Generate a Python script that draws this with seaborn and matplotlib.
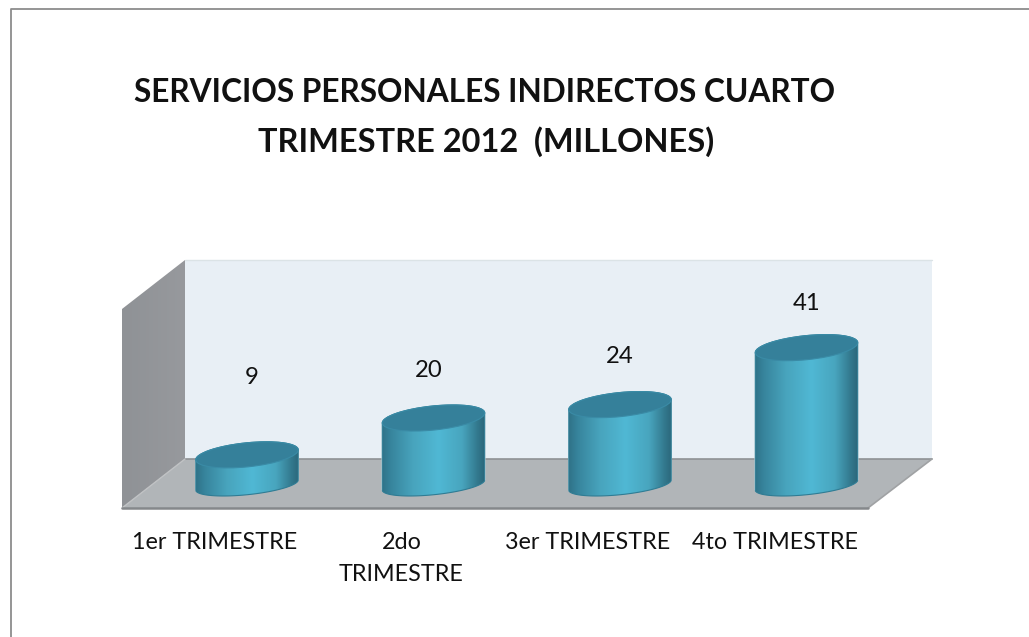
import numpy as np
import pandas as pd
import seaborn as sns
import matplotlib.pyplot as plt
from matplotlib.colors import LinearSegmentedColormap
from matplotlib.patches import Ellipse, PathPatch, Polygon
from matplotlib.path import Path
from matplotlib.transforms import Affine2D, ScaledTranslation

# values
categories = ['1er TRIMESTRE', '2do\nTRIMESTRE', '3er TRIMESTRE', '4to TRIMESTRE']
values = [9, 20, 24, 41]
value_labels = ['9', '20', '24', '41']

W, H = 1029, 637
TILT = -5.87          # degrees, ellipse tilt of the fake 3D view
SEMI_A, SEMI_B, SEMI_B_BASE = 51.5, 12.0, 9.7

sns.set_theme(style='white')
plt.rcParams['font.family'] = ['Lato', 'DejaVu Sans']

df = pd.DataFrame({'trimestre': categories, 'millones': values})

fig = plt.figure(figsize=(W / 100, H / 100), dpi=100)
fig.patch.set_facecolor('white')


def pixel_axes(zorder):
    a = fig.add_axes([0, 0, 1, 1], zorder=zorder)
    a.set_xlim(0, W)
    a.set_ylim(H, 0)
    a.axis('off')
    return a


# background: frame, walls and floor, in pixels
bg = pixel_axes(0)
bg.plot([10.5, 10.5, W], [H, 8.5, 8.5], color='#8c8c8c', lw=1.3)
bg.add_patch(Polygon([(185, 260), (932, 260), (932, 459), (185, 459)], fc='#e8eff5', ec='none'))
bg.plot([185, 932], [260, 260], color='#dbe3e6', lw=1)
wall = bg.imshow(np.linspace(0, 1, 64).reshape(1, -1), extent=(122, 185, 508, 260), aspect='auto',
                 cmap=LinearSegmentedColormap.from_list('wall', ['#8f9296', '#97999d']))
wall.set_clip_path(Polygon([(122, 309), (185, 260), (185, 459), (122, 508)], transform=bg.transData))
bg.add_patch(Polygon([(185, 459), (932, 459), (868, 508), (122, 508)], fc='#b1b5b8', ec='none'))
bg.plot([185, 932], [459, 459], color='#8f9294', lw=1.2)
bg.plot([185, 122], [459, 508], color='#c0c2c4', lw=1)
bg.plot([932, 868], [459, 508], color='#a0a2a4', lw=1.2)
bg.plot([122, 868], [508, 508], color='#85888b', lw=1.8)
bg.set_xlim(0, W)
bg.set_ylim(H, 0)

# chart axes: one category = 186.5 px, one unit = 3.35 px
left, right, top, bottom = 122, 932, 260, 508
ax = fig.add_axes([left / W, 1 - bottom / H, (right - left) / W, (bottom - top) / H], zorder=1)
ax.patch.set_alpha(0)
sns.barplot(data=df, x='trimestre', y='millones', width=0.55, color='#46a3bf',
            saturation=1, ax=ax)
ax.set_xlim((left - 247) / 186.5, (right - 247) / 186.5)
ax.set_ylim((485 - bottom) / 3.35, (485 - top) / 3.35)
ax.set(xlabel=None, ylabel=None, yticks=[])
sns.despine(ax=ax, left=True, bottom=True)
ax.tick_params(axis='x', length=0, pad=17.5, labelsize=16.8, colors='#111111')
for lab in ax.get_xticklabels():
    lab.set_linespacing(1.6)
    lab.set_verticalalignment('top')
    lab.set_transform(lab.get_transform() + ScaledTranslation(-32 / 100, 0, fig.dpi_scale_trans))

# top layer: shaded sides and ellipses of the cylinders
over = pixel_axes(2)
side_cmap = LinearSegmentedColormap.from_list(
    'side', [(0, '#2f7389'), (0.08, '#37849c'), (0.3, '#48a4bd'), (0.55, '#50b8d4'),
             (0.78, '#48a5be'), (0.93, '#33798e'), (1, '#2b677b')])


def ellipse_points(cx, cy, semi_b, t):
    th = np.radians(TILT)
    x = cx + SEMI_A * np.cos(t) * np.cos(th) - semi_b * np.sin(t) * np.sin(th)
    y = cy + SEMI_A * np.cos(t) * np.sin(th) + semi_b * np.sin(t) * np.cos(th)
    return np.column_stack([x, y])


def right_most_angle(semi_b):
    return np.arctan2(semi_b * np.sin(np.radians(-TILT)), SEMI_A * np.cos(np.radians(TILT)))


to_px = ax.transData + over.transData.inverted()
for bar in ax.patches:
    x_mid = bar.get_x() + bar.get_width() / 2
    cx, cy_base = to_px.transform((x_mid, 0))
    _, cy_top = to_px.transform((x_mid, bar.get_height()))

    # lean the bar the same way as the ellipses so it stays inside the cylinder
    disp_cx = ax.transData.transform((x_mid, 0))[0]
    bar.set_transform(ax.transData + Affine2D().translate(-disp_cx, 0)
                      .skew_deg(0, -TILT).translate(disp_cx, 0))

    t_base = right_most_angle(SEMI_B_BASE)
    t_top = right_most_angle(SEMI_B)
    front = ellipse_points(cx, cy_base, SEMI_B_BASE, np.linspace(t_base, t_base + np.pi, 60))
    back = ellipse_points(cx, cy_top, SEMI_B, np.linspace(t_top + np.pi, t_top + 2 * np.pi, 60))
    outline = np.vstack([front, back, front[:1]])
    body = PathPatch(Path(outline), fc='none', ec='#2f7c94', lw=0.8, zorder=3)
    over.add_patch(body)
    im = over.imshow(np.linspace(0, 1, 128).reshape(1, -1), cmap=side_cmap, aspect='auto',
                     extent=(outline[:, 0].min(), outline[:, 0].max(), outline[:, 1].max(), outline[:, 1].min()),
                     zorder=2)
    im.set_clip_path(body)
    over.add_patch(Ellipse((cx, cy_top), 2 * SEMI_A, 2 * SEMI_B, angle=TILT,
                           fc='#35809a', ec='#3a8ba6', lw=0.8, zorder=4))

over.set_xlim(0, W)
over.set_ylim(H, 0)

# data labels sit well above each cylinder, placed by hand in the original
label_lift = [23.1, 14.1, 14.3, 13.1]
label_shift = [5, -5, 0, 0]
for i, (v, txt) in enumerate(zip(values, value_labels)):
    ax.text(i + label_shift[i] / 186.5, v + label_lift[i], txt,
            ha='center', va='center', fontsize=17.2, color='#111111', clip_on=False)

over.text(484.5, 93, 'SERVICIOS PERSONALES INDIRECTOS CUARTO', ha='center', va='center',
          fontsize=22.8, fontweight='bold', color='#111111')
over.text(486, 141.5, 'TRIMESTRE 2012  (MILLONES)', ha='center', va='center',
          fontsize=23.4, fontweight='bold', color='#111111')

fig.savefig('out.png', dpi=100)
plt.close(fig)
